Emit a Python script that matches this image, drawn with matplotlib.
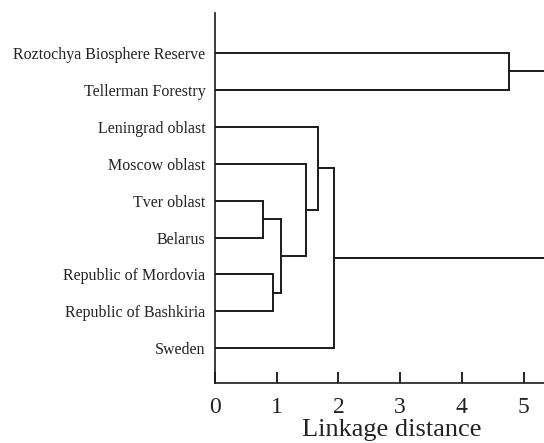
import matplotlib
matplotlib.use("Agg")
import matplotlib.pyplot as plt

plt.rcParams["font.family"] = ["Liberation Serif", "DejaVu Serif"]

# --- Data ---
# leaves listed top to bottom, as in the dendrogram
leaves = [
    "Roztochya Biosphere Reserve",
    "Tellerman Forestry",
    "Leningrad oblast",
    "Moscow oblast",
    "Tver oblast",
    "Belarus",
    "Republic of Mordovia",
    "Republic of Bashkiria",
    "Sweden",
]
# merges: (cluster a, cluster b, linkage distance); new clusters numbered from len(leaves)
merge_a = [4, 6, 9, 3, 2, 13, 0, 15]
merge_b = [5, 7, 10, 11, 12, 8, 1, 14]
merge_h = [0.77, 0.945, 1.07, 1.47, 1.675, 1.92, 4.77, 5.6]

x_ticks = [0, 1, 2, 3, 4, 5]

# --- Plot ---
fig = plt.figure(figsize=(5.44, 4.43), dpi=100)
ax = fig.add_axes([215 / 544, 60 / 443, 329 / 544, 370 / 443])

pos = {i: float(i) for i in range(len(leaves))}
height = {i: 0.0 for i in range(len(leaves))}
lw = 1.4
for k, (a, b, h) in enumerate(zip(merge_a, merge_b, merge_h)):
    new = len(leaves) + k
    ax.plot([height[a], h, h, height[b]], [pos[a], pos[a], pos[b], pos[b]],
            color="#1a1a1a", lw=lw, solid_joinstyle="miter")
    pos[new] = (pos[a] + pos[b]) / 2
    height[new] = h

ax.set_xlim(0, 5.33)
ax.set_ylim(8.94, -1.08)

ax.set_yticks(range(len(leaves)))
ax.set_yticklabels(leaves, fontsize=11.5, color="#222222")
ax.tick_params(axis="y", length=0, pad=7)

ax.set_xticks(x_ticks)
ax.set_xticklabels([str(t) for t in x_ticks], fontsize=17, color="#222222")
ax.tick_params(axis="x", direction="in", length=8, width=1.2, pad=10)
ax.set_xlabel("Linkage distance", fontsize=19, color="#222222")
# the original panel was wider than the crop, so the label sits right of centre
ax.xaxis.set_label_coords(0.538, -0.097)

for s in ["top", "right"]:
    ax.spines[s].set_visible(False)
for s in ["left", "bottom"]:
    ax.spines[s].set_linewidth(1.2)
    ax.spines[s].set_color("#1a1a1a")

fig.savefig("out.png", dpi=100, facecolor="white")
